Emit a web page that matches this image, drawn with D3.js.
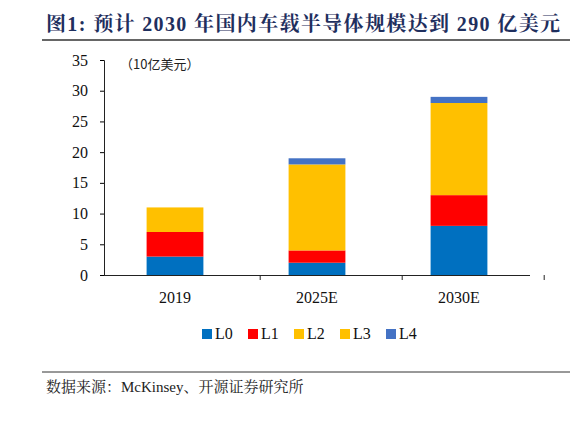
<!DOCTYPE html>
<html><head><meta charset="utf-8">
<script src="https://cdn.jsdelivr.net/npm/d3@7"></script>
<style>body{margin:0;background:#fff}</style>
</head><body>
<svg id="c" width="585" height="429"></svg>
<script>
const categories = ["2019", "2025E", "2030E"];
const seriesNames = ["L0", "L1", "L2", "L3", "L4"];
const colors = ["#0070c0", "#ff0000", "#ffc000", "#ffc000", "#4472c4"];
const L0 = [3, 2, 8];
const L1 = [4, 2, 5];
const L2 = [0, 0, 0];
const L3 = [4, 14, 15];
const L4 = [0, 1, 1];
const yTicks = [0, 5, 10, 15, 20, 25, 30, 35];

const svg = d3.select("#c");
const serif = "'Liberation Serif','Noto Serif CJK SC','Noto Sans CJK SC',serif";

svg.append("text").attr("x", 46).attr("y", 31)
  .attr("fill", "#1f2f5e").attr("font-size", 20).attr("font-weight", "bold")
  .attr("font-family", serif).attr("textLength", 514).attr("lengthAdjust", "spacing")
  .text("图1:  预计 2030 年国内车载半导体规模达到 290 亿美元");
svg.append("line").attr("x1", 42).attr("x2", 570).attr("y1", 40).attr("y2", 40)
  .attr("stroke", "#333").attr("stroke-width", 1.5);

const x = d3.scaleBand().domain(categories).range([104, 530]).paddingInner(0.6).paddingOuter(0.3);
const y = d3.scaleLinear().domain([0, 35]).range([275, 60]);

const table = categories.map((c, i) => ({cat: c, L0: L0[i], L1: L1[i], L2: L2[i], L3: L3[i], L4: L4[i]}));
const stacked = d3.stack().keys(seriesNames)(table);

svg.append("g").selectAll("g").data(stacked).join("g")
  .attr("fill", (d, i) => colors[i])
  .selectAll("rect").data(d => d).join("rect")
  .attr("x", d => x(d.data.cat)).attr("width", x.bandwidth())
  .attr("y", d => y(d[1])).attr("height", d => y(d[0]) - y(d[1]));

const ya = svg.append("g").attr("transform", "translate(104,0)")
  .call(d3.axisLeft(y).tickValues(yTicks).tickSize(4).tickPadding(12));
ya.select(".domain").attr("stroke", "#222");
ya.selectAll("text").attr("font-family", serif).attr("font-size", 16).attr("fill", "#111");

const xa = svg.append("g").attr("transform", "translate(0,275)")
  .call(d3.axisBottom(x).tickSize(0).tickPadding(17));
xa.select(".domain").attr("stroke", "#222").attr("d", "M104,0.5H530");
xa.selectAll("text").attr("font-family", serif).attr("font-size", 16).attr("fill", "#111");
// category separator ticks at band edges
xa.selectAll(".sep").data(categories).join("line")
  .attr("x1", d => x(d) + x.step() * 0.8).attr("x2", d => x(d) + x.step() * 0.8)
  .attr("y1", 0).attr("y2", 5).attr("stroke", "#222");

svg.append("text").attr("x", 120).attr("y", 69).attr("font-size", 13)
  .attr("font-family", "'Noto Sans CJK SC',sans-serif").attr("fill", "#222").text("（10亿美元）");

const lg = svg.append("g").selectAll("g").data(seriesNames).join("g")
  .attr("transform", (d, i) => `translate(${202 + i * 46},338)`);
lg.append("rect").attr("x", 0).attr("y", -9).attr("width", 10).attr("height", 10).attr("fill", (d, i) => colors[i]);
lg.append("text").attr("x", 13).attr("y", 1).attr("font-family", serif).attr("font-size", 16)
  .attr("fill", "#111").text(d => d);

svg.append("line").attr("x1", 42).attr("x2", 570).attr("y1", 372).attr("y2", 372)
  .attr("stroke", "#333").attr("stroke-width", 1);
svg.append("text").attr("x", 46).attr("y", 392).attr("font-size", 15)
  .attr("font-family", serif).attr("fill", "#222").text("数据来源：McKinsey、开源证券研究所");
</script>
</body></html>
